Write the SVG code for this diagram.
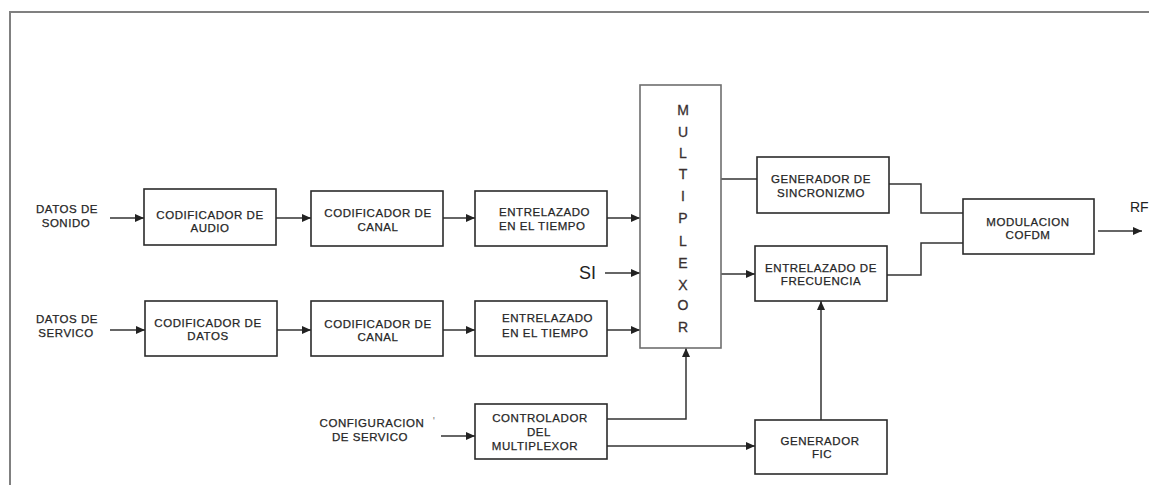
<svg xmlns="http://www.w3.org/2000/svg" width="1149" height="485" viewBox="0 0 1149 485">
<defs>
<style>
.bx{fill:#fff;stroke:#2b2b2b;stroke-width:1.6}
.mx{fill:#fff;stroke:#6e6e6e;stroke-width:1.6}
.t{font-family:"Liberation Sans",Arial,sans-serif;font-size:11.5px;fill:#262626;stroke:#262626;stroke-width:0.25px;text-anchor:middle;dominant-baseline:central;letter-spacing:0.55px}
.tl{font-family:"Liberation Sans",Arial,sans-serif;font-size:11.5px;fill:#262626;stroke:#262626;stroke-width:0.25px;text-anchor:start;dominant-baseline:central;letter-spacing:0.55px}
.big{font-family:"Liberation Sans",Arial,sans-serif;fill:#222;dominant-baseline:central}
.ml{font-family:"Liberation Sans",Arial,sans-serif;font-size:14px;fill:#3a3030;stroke:#3a3030;stroke-width:0.3px;text-anchor:middle;dominant-baseline:central}
.c{fill:none;stroke:#333;stroke-width:1.5}
.a{marker-end:url(#ah)}
</style>
<marker id="ah" markerUnits="userSpaceOnUse" markerWidth="10" markerHeight="9" refX="9" refY="4" orient="auto">
<path d="M0,0 L9,4 L0,8 z" fill="#222"/>
</marker>
</defs>
<rect width="1149" height="485" fill="#fff"/>
<path d="M10,485 V12 H1149" fill="none" stroke="#808080" stroke-width="2"/>

<g id="connectors">
<line class="c a" x1="110" y1="218" x2="144" y2="218"/>
<line class="c a" x1="276" y1="218" x2="311" y2="218"/>
<line class="c a" x1="443" y1="218" x2="475" y2="218"/>
<line class="c a" x1="607" y1="218" x2="640" y2="218"/>
<line class="c a" x1="605" y1="273" x2="640" y2="273"/>
<line class="c a" x1="110" y1="330" x2="145" y2="330"/>
<line class="c a" x1="277" y1="330" x2="311" y2="330"/>
<line class="c a" x1="443" y1="330" x2="475" y2="330"/>
<line class="c a" x1="607" y1="330" x2="640" y2="330"/>
<line class="c a" x1="441" y1="436" x2="475" y2="436"/>
<path class="c a" d="M607,419 H686 V348"/>
<line class="c a" x1="607" y1="446" x2="755" y2="446"/>
<line class="c a" x1="821" y1="420" x2="821" y2="301"/>
<line class="c" x1="721" y1="179" x2="757" y2="179"/>
<line class="c a" x1="721" y1="274" x2="755" y2="274"/>
<path class="c" d="M889,184 H921 V213 H963"/>
<path class="c" d="M887,275 H921 V243 H963"/>
<line class="c a" x1="1098" y1="231" x2="1142" y2="231"/>
</g>

<g id="lbl_sonido">
<text class="t" x="67" y="209">DATOS DE</text>
<text class="t" x="66" y="223">SONIDO</text>
</g>
<g id="lbl_servicio">
<text class="t" x="67" y="319">DATOS DE</text>
<text class="t" x="66" y="333">SERVICO</text>
</g>
<g id="lbl_si">
<text class="big" x="579" y="273" font-size="18">SI</text>
</g>
<g id="lbl_config">
<text class="t" x="372" y="423">CONFIGURACION</text>
<text class="t" x="434" y="421" style="fill:#888;stroke:none">'</text>
<text class="t" x="370" y="437">DE SERVICO</text>
</g>
<g id="lbl_rf">
<text class="big" x="1130" y="207" font-size="14">RF</text>
</g>

<g id="cod_audio">
<rect class="bx" x="144" y="189" width="132" height="56"/>
<text class="t" x="210" y="215">CODIFICADOR DE</text>
<text class="t" x="210" y="228">AUDIO</text>
</g>
<g id="cod_canal1">
<rect class="bx" x="311" y="191" width="132" height="55"/>
<text class="t" x="378" y="213">CODIFICADOR DE</text>
<text class="t" x="378" y="227">CANAL</text>
</g>
<g id="entrel_tiempo1">
<rect class="bx" x="475" y="191" width="132" height="55"/>
<text class="tl" x="499" y="212">ENTRELAZADO</text>
<text class="tl" x="499" y="226">EN EL TIEMPO</text>
</g>
<g id="cod_datos">
<rect class="bx" x="145" y="301" width="132" height="55"/>
<text class="t" x="208" y="323">CODIFICADOR DE</text>
<text class="t" x="208" y="336">DATOS</text>
</g>
<g id="cod_canal2">
<rect class="bx" x="311" y="301" width="132" height="55"/>
<text class="t" x="378" y="324">CODIFICADOR DE</text>
<text class="t" x="378" y="337">CANAL</text>
</g>
<g id="entrel_tiempo2">
<rect class="bx" x="475" y="301" width="132" height="55"/>
<text class="tl" x="502" y="318">ENTRELAZADO</text>
<text class="tl" x="502" y="333">EN EL TIEMPO</text>
</g>
<g id="multiplexor">
<rect class="mx" x="640" y="85" width="81" height="263"/>
<text class="ml" x="683" y="110">M</text>
<text class="ml" x="683" y="132">U</text>
<text class="ml" x="683" y="153">L</text>
<text class="ml" x="683" y="174">T</text>
<text class="ml" x="683" y="196">I</text>
<text class="ml" x="683" y="218">P</text>
<text class="ml" x="683" y="241">L</text>
<text class="ml" x="683" y="263">E</text>
<text class="ml" x="683" y="285">X</text>
<text class="ml" x="683" y="305">O</text>
<text class="ml" x="683" y="327">R</text>
</g>
<g id="gen_sincronizmo">
<rect class="bx" x="757" y="157" width="132" height="56"/>
<text class="t" x="821" y="179">GENERADOR DE</text>
<text class="t" x="821" y="193">SINCRONIZMO</text>
</g>
<g id="entrel_frecuencia">
<rect class="bx" x="755" y="246" width="132" height="55"/>
<text class="t" x="821" y="268">ENTRELAZADO DE</text>
<text class="t" x="821" y="281">FRECUENCIA</text>
</g>
<g id="modulacion">
<rect class="bx" x="963" y="199" width="131" height="55"/>
<text class="t" x="1028" y="222">MODULACION</text>
<text class="t" x="1028" y="235">COFDM</text>
</g>
<g id="controlador">
<rect class="bx" x="475" y="404" width="132" height="55"/>
<text class="t" x="540" y="418">CONTROLADOR</text>
<text class="t" x="539" y="432">DEL</text>
<text class="t" x="535" y="446">MULTIPLEXOR</text>
</g>
<g id="gen_fic">
<rect class="bx" x="755" y="420" width="132" height="54"/>
<text class="t" x="820" y="441">GENERADOR</text>
<text class="t" x="822" y="454">FIC</text>
</g>
</svg>
